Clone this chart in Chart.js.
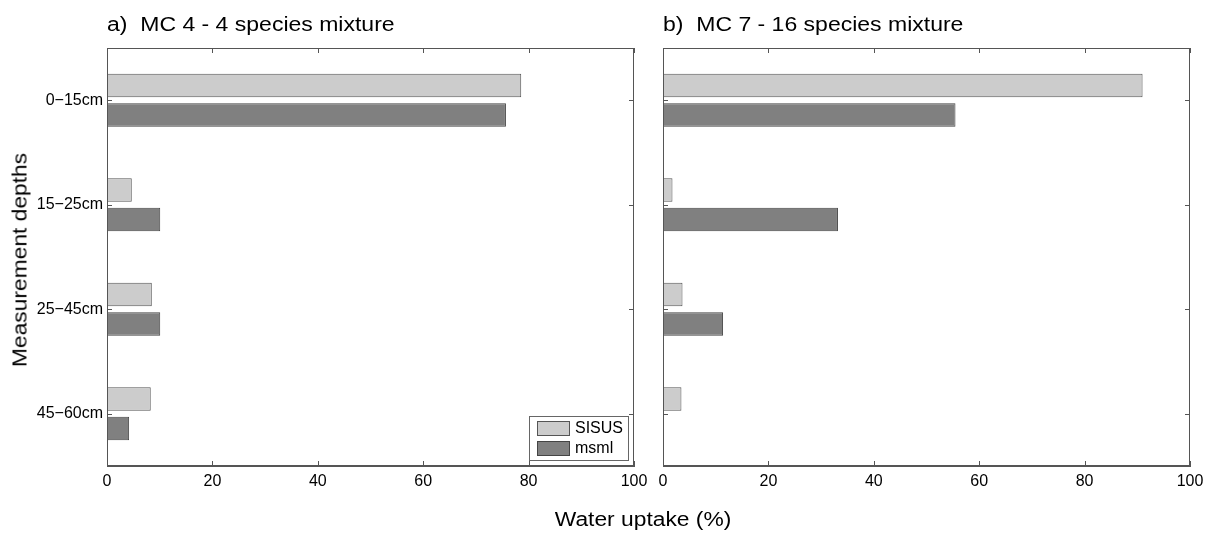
<!DOCTYPE html>
<html>
<head>
<meta charset="utf-8">
<script src="https://cdn.jsdelivr.net/npm/chart.js@4/dist/chart.umd.min.js"></script>
<style>
  body { margin: 0; background: #fff; width: 1215px; height: 534px; position: relative; overflow: hidden;
         font-family: "Liberation Sans", Arial, sans-serif; }
  canvas { position: absolute; top: 0; }
  .title { position: absolute; font-size: 20px; color: #000; white-space: nowrap; transform-origin: 0 50%; }
</style>
</head>
<body>
<canvas id="mc4" width="670" height="534" style="left:0"></canvas>
<canvas id="mc7" width="575" height="534" style="left:640px"></canvas>
<div class="title" style="left:107px; top:13px; transform: scaleX(1.15)">a)&nbsp; MC 4 - 4 species mixture</div>
<div class="title" style="left:663px; top:13px; transform: scaleX(1.15)">b)&nbsp; MC 7 - 16 species mixture</div>
<div class="title" style="left:643px; top:508px; transform-origin: 50% 50%; transform: translateX(-50%) scaleX(1.14)">Water uptake (%)</div>
<div class="title" style="left:20px; top:260px; transform-origin: 50% 50%; transform: translate(-50%, -50%) rotate(-90deg) scaleX(1.14);">Measurement depths</div>
<script>
const depths = ['0\u221215cm', '15\u221225cm', '25\u221245cm', '45\u221260cm'];
const seriesNames = ['SISUS', 'msml'];
const mc4Sisus = [78.6, 4.7, 8.5, 8.3];
const mc4Msml = [75.7, 10.1, 10.1, 4.2];
const mc7Sisus = [91.0, 1.8, 3.7, 3.5];
const mc7Msml = [55.5, 33.2, 11.4, 0];
const xTickValues = [0, 20, 40, 60, 80, 100];

const lightFill = '#cccccc';
const darkFill = '#808080';

// matlab-like box with ticks pointing inward on all four sides
const boxTicks = {
    id: 'boxTicks',
    afterDatasetsDraw(chart) {
        const { ctx, chartArea: { left, right, top, bottom }, scales: { x, y } } = chart;
        ctx.save();
        ctx.strokeStyle = '#555';
        ctx.lineWidth = 1;
        ctx.strokeRect(left + 0.5, top + 0.5, right - left - 1, bottom - top - 1);
        ctx.beginPath();
        x.ticks.forEach((t, i) => {
            const px = Math.round(x.getPixelForTick(i)) + 0.5;
            ctx.moveTo(px, bottom); ctx.lineTo(px, bottom - 5);
            ctx.moveTo(px, top); ctx.lineTo(px, top + 5);
        });
        y.ticks.forEach((t, i) => {
            const py = Math.round(y.getPixelForTick(i)) + 0.5;
            ctx.moveTo(left, py); ctx.lineTo(left + 5, py);
            ctx.moveTo(right, py); ctx.lineTo(right - 5, py);
        });
        ctx.stroke();
        ctx.restore();
    }
};

// legend boxed in the lower right corner of the plot
const cornerLegend = {
    id: 'cornerLegend',
    afterDraw(chart) {
        const { ctx, chartArea: { right, bottom } } = chart;
        const w = 99, h = 44;
        const bx = right - 6 - w, by = bottom - 6 - h;
        ctx.save();
        ctx.fillStyle = '#fff';
        ctx.fillRect(bx, by, w, h);
        ctx.strokeStyle = '#666';
        ctx.lineWidth = 1;
        ctx.strokeRect(bx + 0.5, by + 0.5, w, h);
        ctx.font = '16px "Liberation Sans", Arial, sans-serif';
        ctx.textBaseline = 'middle';
        chart.data.datasets.forEach((ds, i) => {
            const sy = by + 5 + i * 20;
            ctx.fillStyle = ds.backgroundColor;
            ctx.fillRect(bx + 8, sy, 33, 15);
            ctx.strokeStyle = ds.borderColor;
            ctx.strokeRect(bx + 8.5, sy + 0.5, 32, 14);
            ctx.fillStyle = '#000';
            ctx.fillText(ds.label, bx + 46, sy + 8);
        });
        ctx.restore();
    }
};

function makeChart(id, sisus, msml, showYLabels, rightPad, withLegend) {
    return new Chart(document.getElementById(id), {
        type: 'bar',
        data: {
            labels: depths,
            datasets: [
                { label: seriesNames[0], data: sisus, backgroundColor: lightFill, borderColor: '#555',
                  borderWidth: 1, borderSkipped: false },
                { label: seriesNames[1], data: msml, backgroundColor: darkFill, borderColor: '#444',
                  borderWidth: 1, borderSkipped: false }
            ]
        },
        options: {
            indexAxis: 'y',
            responsive: false,
            animation: false,
            devicePixelRatio: 1,
            categoryPercentage: 0.565,
            barPercentage: 0.8,
            layout: { padding: { top: 48, right: rightPad, bottom: 0, left: 0 } },
            plugins: { legend: { display: false }, tooltip: { enabled: false } },
            scales: {
                x: {
                    type: 'linear', min: 0, max: 100,
                    afterBuildTicks: (scale) => { scale.ticks = xTickValues.map(v => ({ value: v })); },
                    grid: { display: false, drawTicks: false },
                    border: { display: true, color: '#555' },
                    ticks: { color: '#000', font: { size: 16, family: '"Liberation Sans", Arial' },
                             autoSkip: false, maxRotation: 0, padding: 6 },
                    afterFit: (scale) => { scale.height = 68; }
                },
                y: {
                    grid: { display: false, drawTicks: false },
                    border: { display: true, color: '#555' },
                    ticks: { display: showYLabels, color: '#000',
                             font: { size: 16, family: '"Liberation Sans", Arial' }, padding: 4 },
                    afterFit: (scale) => { scale.width = showYLabels ? 107 : 23; }
                }
            }
        },
        plugins: withLegend ? [boxTicks, cornerLegend] : [boxTicks]
    });
}

makeChart('mc4', mc4Sisus, mc4Msml, true, 36, true);
makeChart('mc7', mc7Sisus, mc7Msml, false, 25, false);
</script>
</body>
</html>
